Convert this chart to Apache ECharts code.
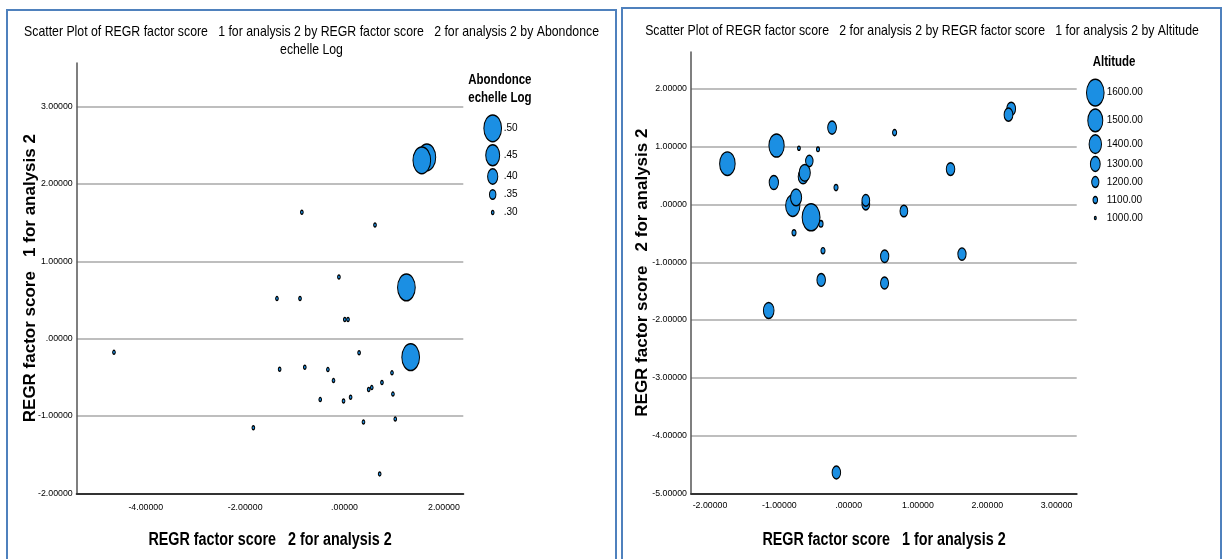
<!DOCTYPE html>
<html>
<head>
<meta charset="utf-8">
<script src="https://cdn.jsdelivr.net/npm/echarts@6/dist/echarts.min.js"></script>
<style>
html, body { margin: 0; padding: 0; background: #fff; }
#main { width: 1224px; height: 559px; }
</style>
</head>
<body>
<div id="main"></div>
<script>
const score1 = [2.345, 2.306, 0.663, -0.239, 1.635, 1.470, 0.797, 0.518, 0.520, 0.248,
                0.248, -0.177, -0.182, -0.396, -0.370, -0.400, -0.442, -0.542, -0.567, -0.657,
                -0.633, -0.717, -0.788, -0.806, -0.758, -1.079, -1.040, -1.153, -1.749];
const score2 = [1.657, 1.555, 1.245, 1.331, -0.859, 0.613, -0.113, -1.360, -0.896, 0.005,
                0.070, -4.640, 0.293, -1.306, -0.800, -0.335, 0.955, -0.222, 0.753, 0.486,
                0.548, 0.974, -0.489, -0.020, 0.122, 0.381, 1.021, -1.835, 0.707];
const abondance = [0.50, 0.50, 0.50, 0.50, 0.30, 0.30, 0.30, 0.30, 0.30, 0.30,
                   0.30, 0.30, 0.30, 0.30, 0.30, 0.30, 0.30, 0.30, 0.30, 0.30,
                   0.30, 0.30, 0.30, 0.30, 0.30, 0.30, 0.30, 0.30, 0.30];
const altitude = [1260, 1260, 1080, 1260, 1240, 1250, 1220, 1230, 1240, 1220,
                  1220, 1250, 1080, 1250, 1080, 1090, 1040, 1610, 1210, 1300,
                  1350, 1030, 1080, 1470, 1350, 1280, 1510, 1330, 1520];

// légendes
const abondLegend = [0.50, 0.45, 0.40, 0.35, 0.30];
const abondLegendLabels = ['.50', '.45', '.40', '.35', '.30'];
const altLegend = [1600, 1500, 1400, 1300, 1200, 1100, 1000];
const altLegendLabels = ['1600.00', '1500.00', '1400.00', '1300.00', '1200.00', '1100.00', '1000.00'];

// graduations
const leftXTicks = [-4, -2, 0, 2];
const leftYTicks = [-2, -1, 0, 1, 2, 3];
const rightXTicks = [-2, -1, 0, 1, 2, 3];
const rightYTicks = [-5, -4, -3, -2, -1, 0, 1, 2];

const font = "'Liberation Sans', Arial, sans-serif";
const squeeze = 0.82; // l'export d'origine est tassé en largeur
const fill = '#1b8fe3';

// format SPSS : .00000, -1.00000
function fmt(v) {
    let s = Math.abs(v).toFixed(5);
    if (s[0] === '0') s = s.slice(1);
    return (v < 0 ? '-' : '') + s;
}

// bulles un peu ovales comme sur l'export
function abSize(v) {
    const h = 4 + (v - 0.3) / 0.05 * 5.7;
    return [h * 0.66, h];
}
function altSize(a) {
    const h = Math.max(3, 3 + (a - 1000) / 100 * 3.95);
    return [h * 0.66, h];
}

// position verticale des lignes de légende selon la taille des symboles
function legendRows(vals, sizeFn) {
    const ys = [0];
    for (let i = 1; i < vals.length; i++) {
        const h0 = sizeFn(vals[i - 1])[1], h1 = sizeFn(vals[i])[1];
        ys.push(ys[i - 1] + Math.max((h0 + h1) / 2 + 3, 18));
    }
    return ys;
}
const rowsAb = legendRows(abondLegend, abSize);
const rowsAlt = legendRows(altLegend, altSize);

function mainX(grid, min, max, ticks, labelMargin) {
    return {
        type: 'value', gridIndex: grid, min: min, max: max,
        axisLine: { show: true, onZero: false, lineStyle: { color: '#333', width: 2 } },
        axisTick: { show: false, customValues: ticks },
        axisLabel: { customValues: ticks, formatter: fmt, fontFamily: font, fontSize: 8.8, color: '#000', margin: labelMargin },
        splitLine: { show: false }
    };
}
function mainY(grid, min, max, ticks, name, nameGap) {
    return {
        type: 'value', gridIndex: grid, min: min, max: max,
        axisLine: { show: true, onZero: false, lineStyle: { color: '#555', width: 1.5 } },
        axisTick: { show: false, customValues: ticks },
        axisLabel: { customValues: ticks, formatter: fmt, fontFamily: font, fontSize: 8.8, color: '#000', margin: 4 },
        splitLine: { show: true, lineStyle: { color: '#a8a8a8', width: 1.5 } },
        name: name, nameLocation: 'middle', nameGap: nameGap, nameMoveOverlap: false,
        nameTextStyle: { fontFamily: font, fontSize: 17, fontWeight: 'bold', color: '#000' }
    };
}
function hiddenAxis(grid, min, max, inverse) {
    return { type: 'value', gridIndex: grid, min: min, max: max, inverse: inverse, show: false };
}
function squeezedText(x, y, text, css, align) {
    return {
        type: 'text', x: x, y: y, scaleX: squeeze, silent: true,
        style: { text: text, align: align || 'center', verticalAlign: 'top', lineHeight: 18, font: css + ' ' + font, fill: '#000' }
    };
}

const chart = echarts.init(document.getElementById('main'));
const option = {
    animation: false,
    backgroundColor: '#fff',
    grid: [
        { left: 76.7, top: 63, width: 386.6, height: 430.3 },
        { left: 691, top: 52, width: 385.7, height: 441.3 },
        { left: 472.7, top: 128.3, width: 40, height: 100 },
        { left: 1075.3, top: 92.7, width: 40, height: 140 }
    ],
    xAxis: [
        mainX(0, -5.39, 2.39, leftXTicks, 10),
        mainX(1, -2.274, 3.29, rightXTicks, 8),
        hiddenAxis(2, -1, 1, false),
        hiddenAxis(3, -1, 1, false)
    ],
    yAxis: [
        mainY(0, -2, 3.565, leftYTicks, 'REGR factor score   1 for analysis 2', 38),
        mainY(1, -5, 2.64, rightYTicks, 'REGR factor score   2 for analysis 2', 40),
        hiddenAxis(2, 0, 100, true),
        hiddenAxis(3, 0, 140, true)
    ],
    series: [
        {
            type: 'scatter', xAxisIndex: 0, yAxisIndex: 0,
            data: score2.map((v, i) => [v, score1[i], abondance[i]]),
            symbolSize: d => abSize(d[2]),
            itemStyle: { color: fill, borderColor: '#000', borderWidth: 1.2, opacity: 1 },
            emphasis: { disabled: true }
        },
        {
            type: 'scatter', xAxisIndex: 1, yAxisIndex: 1,
            data: score1.map((v, i) => [v, score2[i], altitude[i]]),
            symbolSize: d => altSize(d[2]),
            itemStyle: { color: fill, borderColor: '#000', borderWidth: 1.2, opacity: 1 },
            emphasis: { disabled: true }
        },
        {
            type: 'scatter', xAxisIndex: 2, yAxisIndex: 2,
            data: abondLegend.map((v, i) => [0, rowsAb[i], v]),
            symbolSize: d => abSize(d[2]),
            itemStyle: { color: fill, borderColor: '#000', borderWidth: 1.2, opacity: 1 },
            label: {
                show: true, position: 'inside', align: 'left', offset: [11, 0],
                formatter: p => abondLegendLabels[p.dataIndex],
                fontFamily: font, fontSize: 10, color: '#000'
            },
            emphasis: { disabled: true }
        },
        {
            type: 'scatter', xAxisIndex: 3, yAxisIndex: 3,
            data: altLegend.map((v, i) => [0, rowsAlt[i], v]),
            symbolSize: d => altSize(d[2]),
            itemStyle: { color: fill, borderColor: '#000', borderWidth: 1.2, opacity: 1 },
            label: {
                show: true, position: 'inside', align: 'left', offset: [11.4, 0],
                formatter: p => altLegendLabels[p.dataIndex],
                fontFamily: font, fontSize: 10, color: '#000'
            },
            emphasis: { disabled: true }
        }
    ],
    graphic: [
        { type: 'rect', shape: { x: 7, y: 10, width: 609, height: 570 }, style: { fill: 'none', stroke: '#4f81bd', lineWidth: 2 }, silent: true },
        { type: 'rect', shape: { x: 622, y: 8, width: 599, height: 570 }, style: { fill: 'none', stroke: '#4f81bd', lineWidth: 2 }, silent: true },
        squeezedText(311.5, 23, 'Scatter Plot of REGR factor score   1 for analysis 2 by REGR factor score   2 for analysis 2 by Abondonce\nechelle Log', '15px'),
        squeezedText(922, 21.5, 'Scatter Plot of REGR factor score   2 for analysis 2 by REGR factor score   1 for analysis 2 by Altitude', '15px'),
        squeezedText(468.3, 71, 'Abondonce\nechelle Log', 'bold 14px', 'left'),
        squeezedText(1092.7, 53, 'Altitude', 'bold 14px', 'left'),
        squeezedText(270, 531, 'REGR factor score   2 for analysis 2', 'bold 17.5px'),
        squeezedText(884, 531, 'REGR factor score   1 for analysis 2', 'bold 17.5px')
    ]
};
chart.setOption(option);
</script>
</body>
</html>
